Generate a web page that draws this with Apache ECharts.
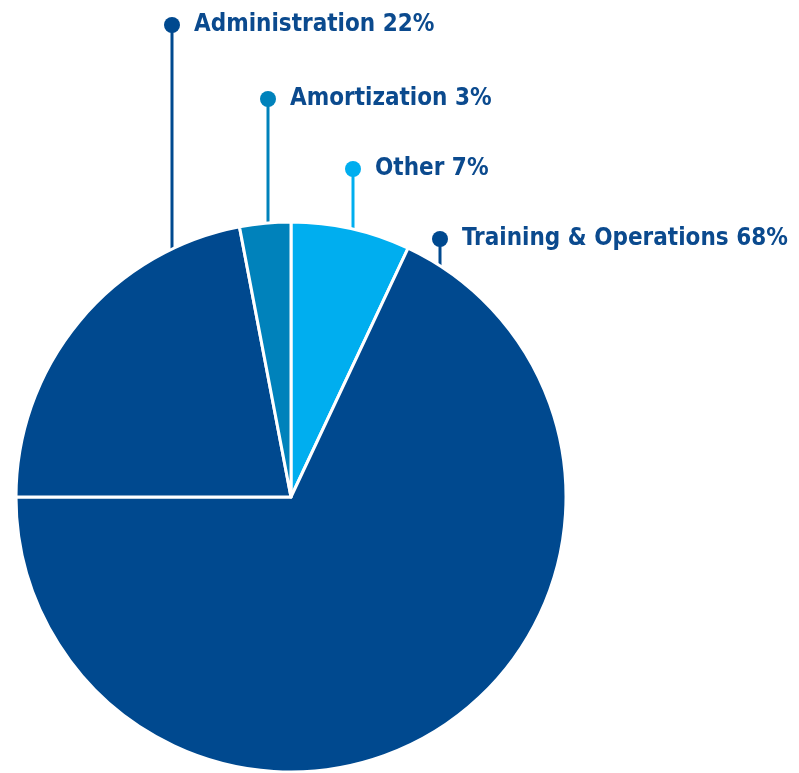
<!DOCTYPE html>
<html><head><meta charset="utf-8">
<script src="https://cdn.jsdelivr.net/npm/echarts@6/dist/echarts.min.js"></script>
<style>html,body{margin:0;padding:0;background:#fff}#c{width:799px;height:773px}</style>
</head><body><div id="c"></div>
<script>
// Data (clockwise from 12 o'clock)
const categories = ['Other', 'Training & Operations', 'Administration', 'Amortization'];
const values = [7, 68, 22, 3];

// Styling / layout (not data)
const colors = ['#00AEEF', '#00498F', '#00498F', '#0082BB'];
const textColor = '#0B4A8E';
const CX = 291, CY = 497, R = 275;
const anchorX = [353, 440, 172, 268];   // x of leader line
const dotY = [169, 239, 25, 99];        // y of leader dot

const chart = echarts.init(document.getElementById('c'));
const data = categories.map((name, i) => ({
  name, value: values[i],
  itemStyle: { color: colors[i] },
  label: {
    rich: {
      dot: { width: 16, height: 16, borderRadius: 8, backgroundColor: colors[i] },
      txt: { color: textColor, fontSize: 24, fontWeight: 'bold', fontFamily: '"DejaVu Sans Condensed",sans-serif', padding: [0, 0, 0, 14] }
    }
  },
  labelLine: { lineStyle: { color: colors[i], width: 3 } }
}));

chart.setOption({
  animation: false,
  series: [{
    type: 'pie',
    center: [CX, CY],
    radius: [0, R],
    startAngle: 90,
    clockwise: true,
    avoidLabelOverlap: false,
    itemStyle: { borderColor: '#fff', borderWidth: 3 },
    label: {
      show: true,
      position: 'outside',
      overflow: 'none',
      formatter: p => '{dot|}{txt|' + p.name + ' ' + p.value + '%}'
    },
    labelLine: { show: true, length: 10, length2: 10 },
    labelLayout: function (p) {
      const i = p.dataIndex;
      const ax = anchorX[i];
      const edgeY = CY - Math.sqrt(R * R - (ax - CX) * (ax - CX));
      return {
        x: ax - 8,
        y: dotY[i],
        align: 'left',
        verticalAlign: 'middle',
        labelLinePoints: [[ax, edgeY], [ax, dotY[i]], [ax, dotY[i]]]
      };
    },
    data
  }]
});
</script></body></html>
